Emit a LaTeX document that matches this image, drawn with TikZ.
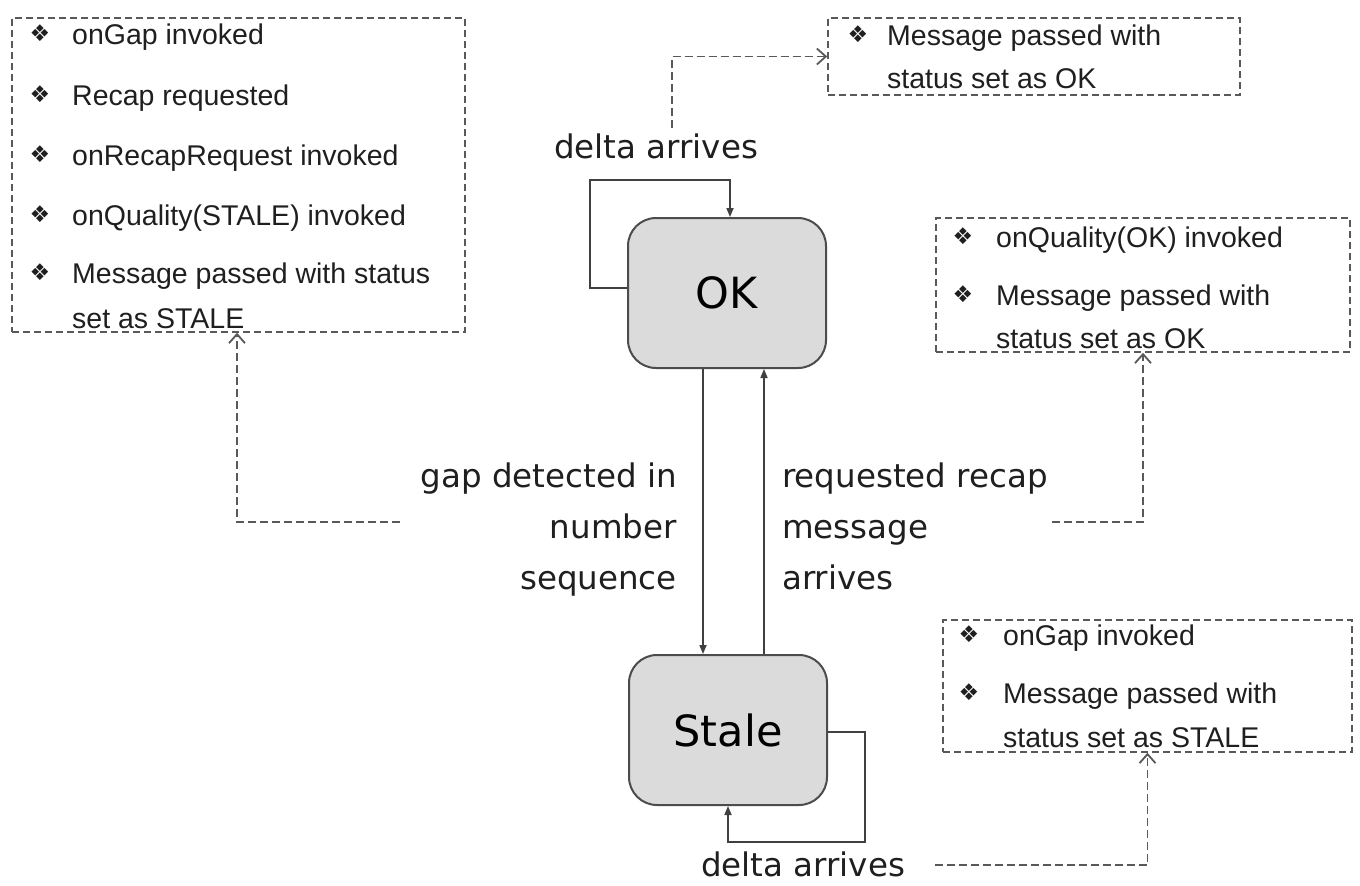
\documentclass[tikz,border=0pt]{standalone}
\usepackage{fontspec}
\newfontfamily\labf{DejaVu Sans}
\newfontfamily\boxf{Liberation Sans}
\usetikzlibrary{arrows.meta}
\begin{document}
\begin{tikzpicture}[x=1pt,y=-1pt,
 state/.style={draw=black!70, line width=2pt, fill=black!14, rounded corners=28pt, minimum width=198pt, minimum height=150pt, font=\labf\fontsize{43}{43}\selectfont, inner sep=0},
 note/.style={draw=black!65, line width=1.6pt, dash pattern=on 7pt off 4pt, inner sep=0},
 item/.style={anchor=base west, inner sep=0, font=\boxf\fontsize{28.5}{30}\selectfont, text=black!88},
 bul/.style={inner sep=0, font=\labf\fontsize{23}{23}\selectfont, text=black!88},
 lab/.style={inner sep=0, font=\labf\fontsize{32.5}{34}\selectfont, text=black!88},
 conn/.style={draw=black!75, line width=1.6pt, -{Triangle[length=9pt,width=7pt]}},
 link/.style={draw=black!65, line width=1.6pt, dash pattern=on 8pt off 4pt, -{Straight Barb[length=9pt,width=16pt,line width=1.8pt]}}
]
\useasboundingbox[fill=white] (0,0) rectangle (1360,886);

% state nodes
\node[state] (ok) at (727,293) {OK};
\node[state] (stale) at (728,730) {Stale};

% note boxes
\node[note, minimum width=453pt, minimum height=314pt] (n1) at (238.5,175) {};
\node[note, minimum width=412pt, minimum height=77pt] (n2) at (1034,56.5) {};
\node[note, minimum width=414pt, minimum height=134pt] (n3) at (1143,285) {};
\node[note, minimum width=409pt, minimum height=132pt] (n4) at (1147.5,686) {};

% left box items
\node[bul] (b11) at (40,33) {❖};
\node[item] (t11) at (72,44) {onGap invoked};
\node[bul] (b12) at (40,94) {❖};
\node[item] (t12) at (72,105) {Recap requested};
\node[bul] (b13) at (40,154) {❖};
\node[item] (t13) at (72,165) {onRecapRequest invoked};
\node[bul] (b14) at (40,214) {❖};
\node[item] (t14) at (72,225) {onQuality(STALE) invoked};
\node[bul] (b15) at (40,272) {❖};
\node[item] (t15) at (72,283) {Message passed with status};
\node[item] (t16) at (72,328) {set as STALE};

% top right box items
\node[bul] (b21) at (858,34) {❖};
\node[item] (t21) at (887,45) {Message passed with};
\node[item] (t22) at (887,88) {status set as OK};

% middle right box items
\node[bul] (b31) at (963,236) {❖};
\node[item] (t31) at (996,247) {onQuality(OK) invoked};
\node[bul] (b32) at (963,294) {❖};
\node[item] (t32) at (996,305) {Message passed with};
\node[item] (t33) at (996,348) {status set as OK};

% bottom right box items
\node[bul] (b41) at (969,634) {❖};
\node[item] (t41) at (1003,645) {onGap invoked};
\node[bul] (b42) at (969,692) {❖};
\node[item] (t42) at (1003,703) {Message passed with};
\node[item] (t43) at (1003,747) {status set as STALE};

% transition labels
\node[lab, anchor=base] (dt) at (656,158) {delta arrives};
\node[lab, anchor=base east] (g1) at (677,487) {gap detected in};
\node[lab, anchor=base east] (g2) at (677,538) {number};
\node[lab, anchor=base east] (g3) at (677,589) {sequence};
\node[lab, anchor=base west] (r1) at (782,487) {requested recap};
\node[lab, anchor=base west] (r2) at (782,538) {message};
\node[lab, anchor=base west] (r3) at (782,589) {arrives};
\node[lab, anchor=base] (db) at (803,876) {delta arrives};

% transitions
\draw[conn] ([yshift=5pt]ok.west) -| (590,180) -| ([xshift=3pt]ok.north);
\draw[conn] ([xshift=-24pt]ok.south) -- ([xshift=-25pt]stale.north);
\draw[conn] ([xshift=36pt]stale.north) -- ([xshift=37pt]ok.south);
\draw[conn] ([yshift=-2pt]stale.east) -| (865,842) -| (stale.south);

% dashed links
\coordinate (dtop) at (672,128);
\coordinate (gl) at (400,522);
\coordinate (rr) at (1052,522);
\coordinate (dbr) at (935,865);
\draw[link] (dtop) |- (n2.west);
\draw[link] (gl) -| ([xshift=-1.5pt]n1.south);
\draw[link] (rr) -| (n3.south);
\draw[link] (dbr) -| (n4.south);
\end{tikzpicture}
\end{document}
